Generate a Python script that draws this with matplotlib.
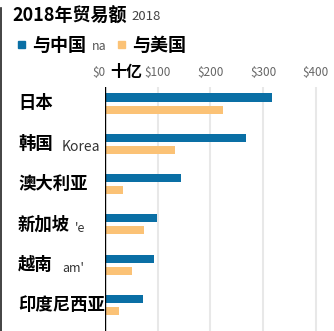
import matplotlib
matplotlib.use("Agg")
import matplotlib.pyplot as plt
from matplotlib.lines import Line2D

plt.rcParams['font.family'] = ['Noto Sans CJK SC', 'DejaVu Sans']

# 2018 trade, billions of dollars
countries = ['日本', '韩国', '澳大利亚', '新加坡', '越南', '印度尼西亚']
with_china = [317, 268, 144, 99, 93, 72]
with_us = [224, 132, 34, 74, 51, 27]
ticks = [0, 100, 200, 300, 400]
tick_labels = ['$0', '$100', '$200', '$300', '$400']

blue = '#0a6fa5'
orange = '#fbc276'

W, H = 334, 331
fig = plt.figure(figsize=(W / 100, H / 100), dpi=100)
ax = fig.add_axes([105 / W, 0, 216 / W, (H - 87) / H])

y = list(range(len(countries)))
ax.barh([i - 0.15 for i in y], with_china, height=0.2, color=blue, zorder=3)
ax.barh([i + 0.15 for i in y], with_us, height=0.2, color=orange, zorder=3)

ax.set_xlim(0, 410)
ax.set_ylim(5.645, -0.41)
ax.xaxis.tick_top()
ax.set_xticks(ticks)
ax.set_xticklabels(tick_labels, fontsize=8.5, color='#666666')
ax.get_xticklabels()[0].set_horizontalalignment('right')
ax.tick_params(axis='x', length=0, pad=6)
ax.set_yticks([])
for s in ax.spines.values():
    s.set_visible(False)
ax.grid(axis='x', color='#e8e8e8', linewidth=1.5, zorder=0)
ax.axvline(0, color='black', linewidth=1, zorder=4)

# category labels
for i, name in enumerate(countries):
    fig.text(18 / W, 1 - (103.5 + 40.3 * i) / H, name, fontsize=12.5,
             fontweight='bold', va='center', ha='left')
fig.text(62 / W, 1 - 147 / H, 'Korea', fontsize=10, color='#333333', va='center')
fig.text(75 / W, 1 - 228 / H, "'e", fontsize=9, color='#333333', va='center')
fig.text(62 / W, 1 - 268 / H, "am'", fontsize=9, color='#333333', va='center')

fig.text(110 / W, 1 - 72 / H, '十亿', fontsize=11.5, fontweight='bold', va='center')

# title
fig.text(12 / W, 1 - 16 / H, '2018年贸易额', fontsize=13, fontweight='bold', va='center')
fig.text(131 / W, 1 - 16 / H, '2018', fontsize=9.5, color='#444444', va='center')

# legend
fig.patches.append(plt.Rectangle((18 / W, 1 - 48 / H), 7 / W, 7 / H,
                                 color=blue, transform=fig.transFigure))
fig.text(32 / W, 1 - 45 / H, '与中国', fontsize=13, fontweight='bold', va='center')
fig.text(92 / W, 1 - 46 / H, 'na', fontsize=9, color='#555555', va='center')
fig.patches.append(plt.Rectangle((118 / W, 1 - 48 / H), 7 / W, 7 / H,
                                 color=orange, transform=fig.transFigure))
fig.text(132 / W, 1 - 45 / H, '与美国', fontsize=13, fontweight='bold', va='center')

fig.lines.append(Line2D([1 / W, 1 / W], [0, 1 - 8 / H], color='#222222',
                        linewidth=1.2, transform=fig.transFigure))

fig.savefig('out.png', dpi=100)
